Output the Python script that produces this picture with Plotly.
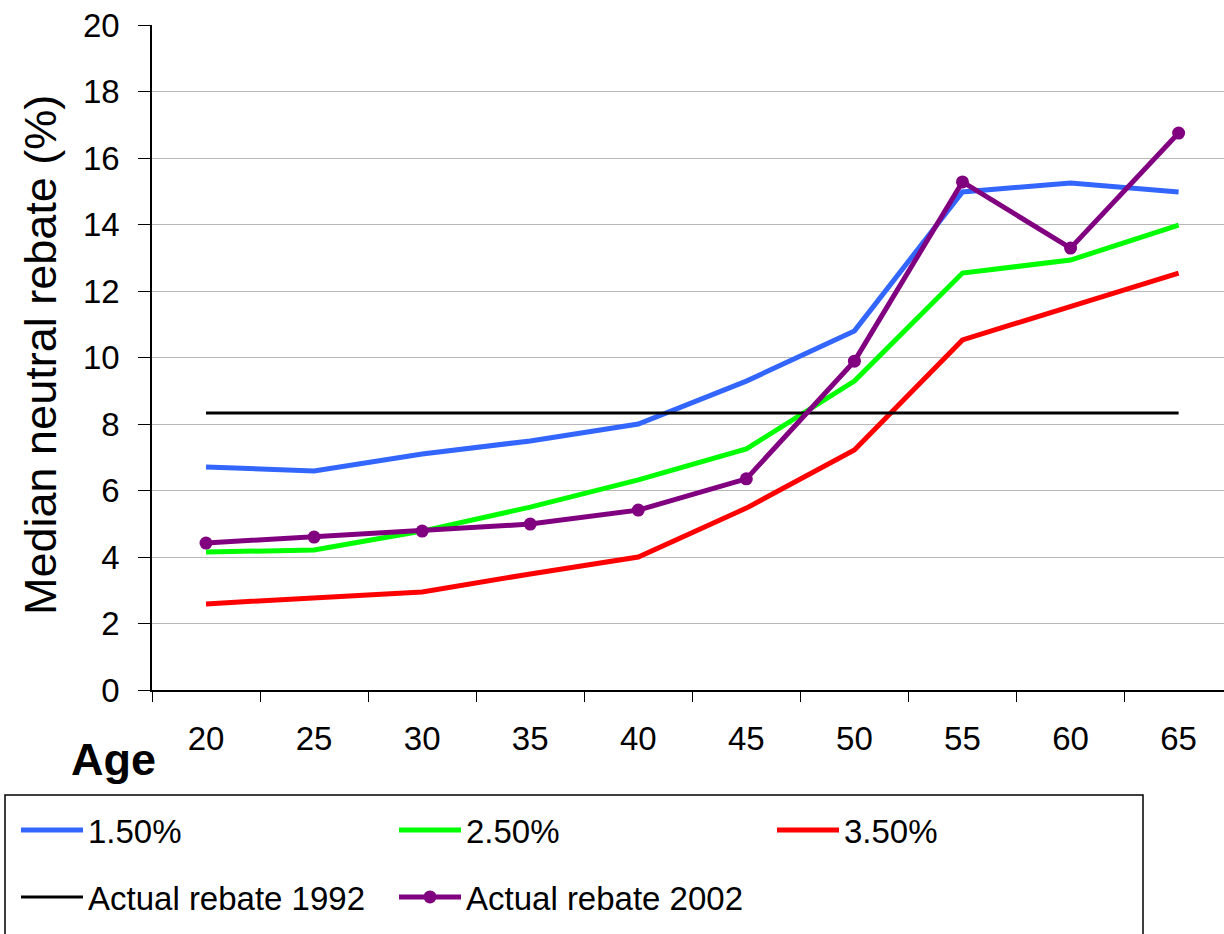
import plotly.graph_objects as go

ages = ["20", "25", "30", "35", "40", "45", "50", "55", "60", "65"]
r150 = [6.71, 6.59, 7.10, 7.49, 8.00, 9.29, 10.80, 14.98, 15.25, 14.98]
r250 = [4.15, 4.21, 4.78, 5.50, 6.32, 7.25, 9.29, 12.54, 12.93, 13.98]
r350 = [2.59, 2.77, 2.95, 3.49, 4.00, 5.47, 7.22, 10.53, 11.55, 12.54]
r1992 = [8.33] * 10
r2002 = [4.42, 4.60, 4.78, 4.99, 5.41, 6.35, 9.89, 15.28, 13.29, 16.75]

W, H = 1224, 934
L, R, T, B = 152, 0, 25, 244
pw, ph = W - L - R, H - T - B

def px(x):
    return (x - L) / pw

def py(y):
    return (H - B - y) / ph

font = "Arial, Liberation Sans, sans-serif"
fig = go.Figure()
fig.add_trace(go.Scatter(x=ages, y=r150, name="1.50%", mode="lines",
                         line=dict(color="#3366FF", width=5), legend="legend"))
fig.add_trace(go.Scatter(x=ages, y=r250, name="2.50%", mode="lines",
                         line=dict(color="#00FF00", width=5), legend="legend"))
fig.add_trace(go.Scatter(x=ages, y=r350, name="3.50%", mode="lines",
                         line=dict(color="#FF0000", width=5), legend="legend"))
fig.add_trace(go.Scatter(x=ages, y=r1992, name="Actual rebate 1992", mode="lines",
                         line=dict(color="#000000", width=3), legend="legend2"))
fig.add_trace(go.Scatter(x=ages, y=r2002, name="Actual rebate 2002", mode="lines+markers",
                         line=dict(color="#800080", width=5),
                         marker=dict(color="#800080", size=13), legend="legend2"))

legend_common = dict(orientation="h", xanchor="left", yanchor="middle",
                     font=dict(family=font, size=33, color="#000"),
                     entrywidth=301, entrywidthmode="pixels",
                     bgcolor="rgba(0,0,0,0)", itemwidth=62)

fig.update_layout(
    width=W, height=H,
    margin=dict(l=L, r=R, t=T, b=B),
    paper_bgcolor="white", plot_bgcolor="white",
    font=dict(family=font, size=32, color="#000"),
    showlegend=True,
    legend=dict(x=px(16), y=py(830), **legend_common),
    legend2=dict(x=px(16), y=py(897), **legend_common),
    xaxis=dict(type="category", range=[-0.5, 9.42], showgrid=False,
               showline=True, linecolor="#000", linewidth=1.5,
               ticks="outside", tickson="boundaries", ticklen=10, tickcolor="#000",
               tickfont=dict(size=33), ticklabelstandoff=19, zeroline=False),
    yaxis=dict(range=[0, 20], dtick=2, showgrid=True, gridcolor="#b8b8b8", gridwidth=1,
               showline=True, linecolor="#000", linewidth=1.5,
               ticks="outside", ticklen=12, tickcolor="#000",
               tickfont=dict(size=33), ticklabelstandoff=12, zeroline=False),
    shapes=[dict(type="rect", xref="paper", yref="paper",
                 x0=px(5), x1=px(1143), y0=py(795), y1=py(945),
                 line=dict(color="#000", width=1.5))],
    annotations=[
        dict(text="<b>Age</b>", xref="paper", yref="paper",
             x=px(113), y=py(760), xanchor="center", yanchor="middle",
             showarrow=False, font=dict(size=45, family=font, color="#000")),
        dict(text="Median neutral rebate (%)", xref="paper", yref="paper",
             x=px(40), y=py(355), xanchor="center", yanchor="middle", textangle=-90,
             showarrow=False, font=dict(size=45, family=font, color="#000")),
    ],
)

fig.write_html("out.html", config={"displayModeBar": False},
               post_script="document.body.style.margin='0';document.body.style.overflow='hidden';")
